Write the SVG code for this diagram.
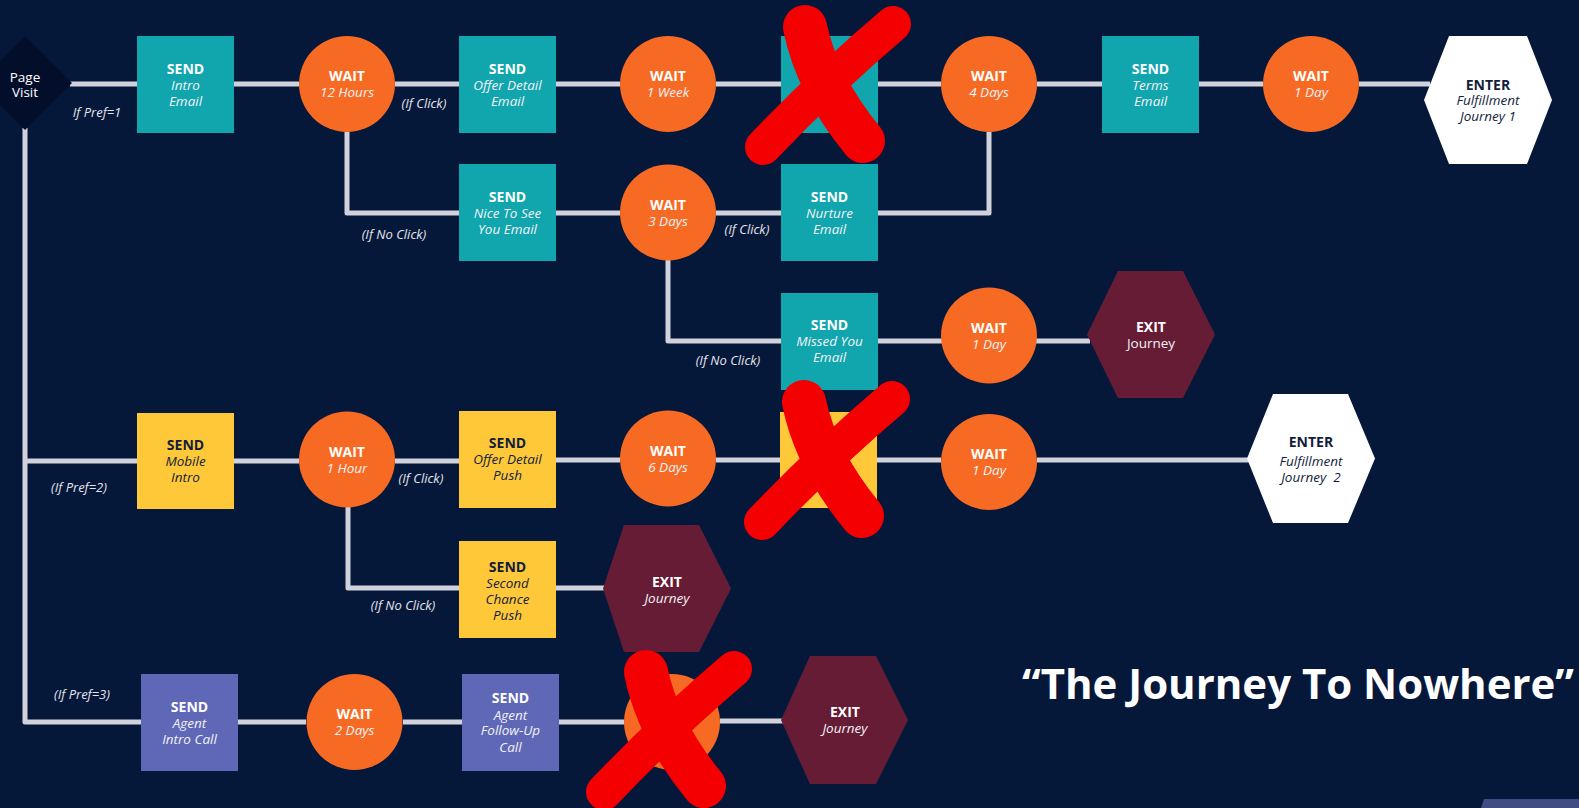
<svg xmlns="http://www.w3.org/2000/svg" xmlns:xlink="http://www.w3.org/1999/xlink" width="1579" height="808" viewBox="0 0 1579 808">
<style>
.teal{fill:#11a5ad}
.yel{fill:#ffc838}
.pur{fill:#5f67b7}
.org{fill:#f76a24}
.mar{fill:#661c35}
.wht{fill:#ffffff}
text{font-family:"Open Sans","Noto Sans",sans-serif;text-anchor:middle}
.b{font-weight:bold;font-size:14px}
.i{font-style:italic;font-size:13.5px}
.r{font-size:13.5px}
.lt{fill:#ffffff}
.lti{fill:#f2f2f6}
.dk{fill:#121d3d}
.conn{stroke:#d2d2dc;stroke-width:5;fill:none;stroke-linejoin:round}
.lbl{font-style:italic;font-size:13px;fill:#e4e4ec}
.xm{stroke:#f40000;fill:none;stroke-linecap:round}
</style>
<defs>
<g id="xmark">
<path class="xm" d="M58,22 Q70,80 116,136" stroke-width="44"/>
<path class="xm" d="M146,19 Q80,75 16,142" stroke-width="36"/>
</g>
</defs>
<rect width="1579" height="808" fill="#06183a"/>

<g id="connectors">
<path class="conn" d="M70,84 H137 M234,84 H299 M395,84 H459 M556,84 H620 M716,84 H781 M878,84 H941 M1037,84 H1102 M1199,84 H1263 M1359,84 H1430"/>
<path class="conn" d="M347,132 V213 H459"/>
<path class="conn" d="M556,213 H620 M716,213 H781"/>
<path class="conn" d="M878,213 H989 V132"/>
<path class="conn" d="M668,260 V341 H781"/>
<path class="conn" d="M878,341 H942 M1036,341 H1090"/>
<path class="conn" d="M25,128 V722 H141"/>
<path class="conn" d="M25,461 H137"/>
<path class="conn" d="M234,461 H299 M395,461 H459 M556,460 H620 M716,460 H780 M877,460 H941 M1037,460 H1250"/>
<path class="conn" d="M348,507 V588 H459 M556,588 H606"/>
<path class="conn" d="M238,722 H306 M403,722 H462 M559,722 H624 M720,721 H784"/>
</g>

<g id="page-visit">
<polygon points="25,36 72,83 25,130 -22,83" fill="#030e2b"/>
<text class="r lt" x="25" y="82" font-size="13">Page</text>
<text class="r lt" x="25" y="97" font-size="13">Visit</text>
</g>

<g id="send-intro-email">
<rect class="teal" x="137" y="36" width="97" height="97"/>
<text class="b lt" x="185.5" y="73.5">SEND</text>
<text class="i lti" x="185.5" y="89.5">Intro</text>
<text class="i lti" x="185.5" y="105.5">Email</text>
</g>
<g id="wait-12-hours">
<circle class="org" cx="347" cy="84" r="48"/>
<text class="b lt" x="347" y="81">WAIT</text>
<text class="i lti" x="347" y="97">12 Hours</text>
</g>
<g id="send-offer-detail-email">
<rect class="teal" x="459" y="36" width="97" height="97"/>
<text class="b lt" x="507.5" y="73.5">SEND</text>
<text class="i lti" x="507.5" y="89.5">Offer Detail</text>
<text class="i lti" x="507.5" y="105.5">Email</text>
</g>
<g id="wait-1-week">
<circle class="org" cx="668" cy="84" r="48"/>
<text class="b lt" x="668" y="81">WAIT</text>
<text class="i lti" x="668" y="97">1 Week</text>
</g>
<g id="send-crossed-email">
<rect class="teal" x="781" y="36" width="97" height="97"/>
</g>
<g id="wait-4-days">
<circle class="org" cx="989" cy="84" r="48"/>
<text class="b lt" x="989" y="81">WAIT</text>
<text class="i lti" x="989" y="97">4 Days</text>
</g>
<g id="send-terms-email">
<rect class="teal" x="1102" y="36" width="97" height="97"/>
<text class="b lt" x="1150.5" y="73.5">SEND</text>
<text class="i lti" x="1150.5" y="89.5">Terms</text>
<text class="i lti" x="1150.5" y="105.5">Email</text>
</g>
<g id="wait-1-day-a">
<circle class="org" cx="1311" cy="84" r="48"/>
<text class="b lt" x="1311" y="81">WAIT</text>
<text class="i lti" x="1311" y="97">1 Day</text>
</g>
<g id="enter-fulfillment-1">
<polygon class="wht" points="1424,100 1449,36 1527,36 1552,100 1527,164 1449,164"/>
<text class="b dk" x="1488" y="90">ENTER</text>
<text class="i dk" x="1488" y="105">Fulfillment</text>
<text class="i dk" x="1488" y="121">Journey 1</text>
</g>

<g id="send-nice-to-see">
<rect class="teal" x="459" y="164" width="97" height="97"/>
<text class="b lt" x="507.5" y="201.5">SEND</text>
<text class="i lti" x="507.5" y="217.5">Nice To See</text>
<text class="i lti" x="507.5" y="233.5">You Email</text>
</g>
<g id="wait-3-days">
<circle class="org" cx="668" cy="212.5" r="48"/>
<text class="b lt" x="668" y="209.5">WAIT</text>
<text class="i lti" x="668" y="225.5">3 Days</text>
</g>
<g id="send-nurture-email">
<rect class="teal" x="781" y="164" width="97" height="97"/>
<text class="b lt" x="829.5" y="201.5">SEND</text>
<text class="i lti" x="829.5" y="217.5">Nurture</text>
<text class="i lti" x="829.5" y="233.5">Email</text>
</g>
<g id="send-missed-you">
<rect class="teal" x="781" y="293" width="97" height="97"/>
<text class="b lt" x="829.5" y="330">SEND</text>
<text class="i lti" x="829.5" y="346">Missed You</text>
<text class="i lti" x="829.5" y="362">Email</text>
</g>
<g id="wait-1-day-b">
<circle class="org" cx="989" cy="335.5" r="48"/>
<text class="b lt" x="989" y="332.5">WAIT</text>
<text class="i lti" x="989" y="348.5">1 Day</text>
</g>
<g id="exit-journey-a">
<polygon class="mar" points="1087,334.5 1118,271 1183,271 1215,334.5 1183,398 1118,398"/>
<text class="b lt" x="1151" y="332">EXIT</text>
<text class="r lti" x="1151" y="348">Journey</text>
</g>

<g id="send-mobile-intro">
<rect class="yel" x="137" y="413" width="97" height="96"/>
<text class="b dk" x="185.5" y="449.5">SEND</text>
<text class="i dk" x="185.5" y="465.5">Mobile</text>
<text class="i dk" x="185.5" y="481.5">Intro</text>
</g>
<g id="wait-1-hour">
<circle class="org" cx="347" cy="459.5" r="48"/>
<text class="b lt" x="347" y="456.5">WAIT</text>
<text class="i lti" x="347" y="472.5">1 Hour</text>
</g>
<g id="send-offer-detail-push">
<rect class="yel" x="459" y="411" width="97" height="97"/>
<text class="b dk" x="507.5" y="448">SEND</text>
<text class="i dk" x="507.5" y="464">Offer Detail</text>
<text class="i dk" x="507.5" y="480">Push</text>
</g>
<g id="wait-6-days">
<circle class="org" cx="668" cy="458.5" r="48"/>
<text class="b lt" x="668" y="455.5">WAIT</text>
<text class="i lti" x="668" y="471.5">6 Days</text>
</g>
<g id="send-crossed-push">
<rect class="yel" x="780" y="412" width="97" height="96"/>
</g>
<g id="wait-1-day-c">
<circle class="org" cx="989" cy="462" r="48"/>
<text class="b lt" x="989" y="459">WAIT</text>
<text class="i lti" x="989" y="475">1 Day</text>
</g>
<g id="enter-fulfillment-2">
<polygon class="wht" points="1247,458.5 1273,394 1348,394 1375,458.5 1348,523 1273,523"/>
<text class="b dk" x="1311" y="447">ENTER</text>
<text class="i dk" x="1311" y="466">Fulfillment</text>
<text class="i dk" x="1311" y="482" xml:space="preserve">Journey  2</text>
</g>
<g id="send-second-chance">
<rect class="yel" x="459" y="541" width="97" height="97"/>
<text class="b dk" x="507.5" y="572" font-size="17">SEND</text>
<text class="i dk" x="507.5" y="588">Second</text>
<text class="i dk" x="507.5" y="604">Chance</text>
<text class="i dk" x="507.5" y="619.5">Push</text>
</g>
<g id="exit-journey-b">
<polygon class="mar" points="603,588.5 624,525 699,525 731,588.5 699,652 624,652"/>
<text class="b lt" x="667" y="587">EXIT</text>
<text class="i lti" x="667" y="603">Journey</text>
</g>

<g id="send-agent-intro-call">
<rect class="pur" x="141" y="674" width="97" height="97"/>
<text class="b lt" x="189.5" y="711.5">SEND</text>
<text class="i lti" x="189.5" y="727.5">Agent</text>
<text class="i lti" x="189.5" y="743.5">Intro Call</text>
</g>
<g id="wait-2-days">
<circle class="org" cx="354.5" cy="722" r="48"/>
<text class="b lt" x="354.5" y="719">WAIT</text>
<text class="i lti" x="354.5" y="735">2 Days</text>
</g>
<g id="send-agent-follow-up">
<rect class="pur" x="462" y="674" width="97" height="97"/>
<text class="b lt" x="510.5" y="703">SEND</text>
<text class="i lti" x="510.5" y="719.5">Agent</text>
<text class="i lti" x="510.5" y="735">Follow-Up</text>
<text class="i lti" x="510.5" y="751.5">Call</text>
</g>
<g id="wait-crossed">
<circle class="org" cx="672" cy="722" r="48"/>
</g>
<g id="exit-journey-c">
<polygon class="mar" points="781,720 810,656 876,656 908,720 876,784 810,784"/>
<text class="b lt" x="845" y="717">EXIT</text>
<text class="i lti" x="845" y="733">Journey</text>
</g>

<g id="labels">
<text class="lbl" x="97" y="117">If Pref=1</text>
<text class="lbl" x="424" y="108">(If Click)</text>
<text class="lbl" x="394" y="239">(If No Click)</text>
<text class="lbl" x="747" y="234">(If Click)</text>
<text class="lbl" x="728" y="365">(If No Click)</text>
<text class="lbl" x="79" y="492">(If Pref=2)</text>
<text class="lbl" x="421" y="483">(If Click)</text>
<text class="lbl" x="403" y="610">(If No Click)</text>
<text class="lbl" x="82" y="699">(If Pref=3)</text>
</g>

<g id="cross-marks">
<use xlink:href="#xmark" href="#xmark" transform="translate(747,5)"/>
<use xlink:href="#xmark" href="#xmark" transform="translate(746,380)"/>
<use xlink:href="#xmark" href="#xmark" transform="translate(588,650)"/>
</g>

<text x="1022" y="699" font-size="42" font-weight="bold" fill="#ffffff" style="text-anchor:start" textLength="552" lengthAdjust="spacingAndGlyphs">“The Journey To Nowhere”</text>
<polygon points="1484,799 1579,799 1579,808 1481,808" fill="#414c82"/>
</svg>
